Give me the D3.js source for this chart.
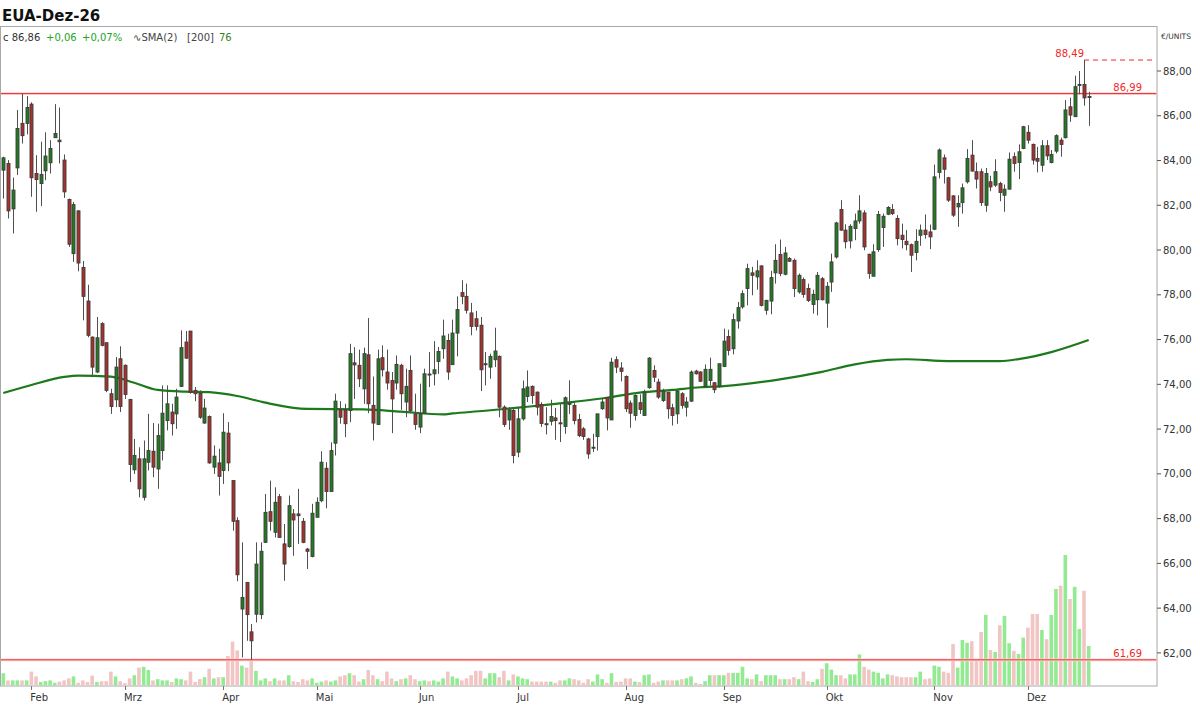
<!DOCTYPE html>
<html><head><meta charset="utf-8">
<script src="https://cdn.jsdelivr.net/npm/d3@7"></script>
<style>body{margin:0;background:#fff;} svg{display:block;font-family:"DejaVu Sans",sans-serif;}</style>
</head><body><svg id="c" width="1200" height="705"></svg>
<script>
const opens = [83.57,83.87,81.84,83.67,85.66,85.66,86.52,83.42,82.97,83.54,83.90,85.02,84.91,84.02,82.26,79.84,81.75,79.22,77.72,76.11,74.55,76.71,75.86,73.58,73.31,75.14,74.85,73.32,70.18,70.67,68.95,70.52,71.01,70.22,71.04,72.38,72.76,72.68,73.91,75.89,76.38,73.73,73.61,72.27,72.56,70.30,70.49,70.15,71.82,69.70,67.91,63.96,65.15,62.94,63.73,63.71,66.94,68.31,67.39,68.98,66.87,66.75,68.21,68.21,67.88,66.64,66.31,68.06,68.80,70.25,69.21,71.37,72.86,72.86,72.83,74.96,74.85,73.80,75.32,73.06,72.21,75.19,74.55,74.17,74.06,74.85,73.21,74.62,72.68,72.09,72.71,74.46,74.47,75.02,75.59,75.96,74.88,76.29,78.10,77.93,77.19,76.93,76.64,74.88,74.77,75.10,75.25,72.98,72.41,72.83,70.97,72.46,73.46,73.91,73.65,73.10,72.24,72.35,72.50,72.28,72.12,73.10,73.06,72.43,72.01,71.56,71.15,71.67,72.91,73.40,72.41,75.10,74.73,74.35,73.16,72.61,73.18,72.61,73.85,74.62,74.10,73.28,73.65,72.95,72.68,73.58,72.98,73.25,74.59,74.55,73.91,74.17,74.07,73.91,74.80,76.14,75.59,76.83,77.46,78.28,78.98,78.80,79.29,77.31,77.72,78.98,79.80,78.92,79.62,79.54,78.13,78.68,78.28,77.57,77.78,78.72,77.63,78.57,79.69,81.81,80.89,80.41,80.96,81.30,81.66,79.81,78.83,80.02,81.01,81.60,81.81,81.41,80.66,80.39,80.24,79.89,80.66,80.89,80.81,80.93,83.47,84.12,83.23,82.42,81.93,82.12,83.05,84.24,83.50,83.50,82.00,83.05,82.90,82.97,82.45,82.72,84.17,83.91,84.54,85.26,84.72,84.09,83.79,84.66,83.91,84.42,84.91,85.02,86.40,85.96,87.37,87.40,86.84];
const highs = [84.17,84.02,83.24,86.26,86.99,86.88,86.60,84.24,84.84,85.26,84.91,86.52,86.37,84.27,82.30,82.15,81.78,79.51,78.45,76.14,77.01,76.78,75.86,73.80,75.22,75.70,74.89,73.35,71.56,71.19,71.49,72.68,72.27,72.24,73.95,73.95,73.13,73.80,76.41,76.38,76.38,73.88,73.73,73.35,72.61,71.27,71.12,72.71,72.31,69.70,68.06,66.94,65.15,63.29,66.94,66.94,69.10,69.70,69.40,69.10,67.76,69.03,68.43,69.33,68.03,66.69,68.66,68.95,71.01,70.52,71.41,73.58,73.25,73.13,75.81,75.66,75.55,75.64,76.96,74.35,75.55,75.74,75.55,74.55,75.29,74.92,74.70,75.29,73.58,74.03,74.70,75.44,75.93,75.67,76.89,76.26,76.89,77.93,78.65,78.50,77.64,77.28,77.01,75.44,75.37,76.53,75.29,73.06,72.98,72.91,72.98,74.17,74.62,73.95,73.68,73.20,72.98,73.31,72.95,73.13,73.46,74.18,73.16,72.68,72.09,71.61,71.79,72.68,73.35,73.43,75.19,75.25,74.99,74.40,73.28,73.55,73.55,73.76,75.22,74.85,74.25,73.80,73.65,73.13,73.76,73.65,73.43,74.62,74.65,74.59,74.89,75.19,74.10,74.92,76.49,76.44,77.16,77.68,78.20,79.39,79.25,79.54,79.32,77.78,79.07,80.26,80.47,80.14,79.69,79.62,78.95,78.77,78.50,78.23,79.02,78.80,78.57,79.84,81.26,82.23,81.15,81.15,81.63,82.45,81.78,79.84,80.26,81.75,81.63,81.96,82.05,81.56,81.18,80.89,80.29,80.93,81.14,81.59,81.14,83.82,84.54,84.27,83.27,82.45,82.45,82.97,84.51,84.91,83.91,83.64,83.67,83.32,84.06,83.05,82.93,84.36,84.36,84.72,85.55,85.58,84.76,84.61,84.91,84.91,84.47,85.17,85.02,86.70,86.81,87.79,88.00,88.49,87.07];
const lows = [82.30,81.41,80.74,83.35,84.76,85.17,82.38,81.71,81.96,83.12,83.42,85.02,83.87,82.33,80.14,79.47,79.05,76.86,76.10,74.32,74.50,75.70,73.65,72.68,72.98,72.76,73.35,69.63,70.00,68.95,68.81,70.15,69.85,69.33,70.60,71.94,71.71,72.01,73.88,75.14,73.58,73.25,72.46,72.24,70.45,70.00,69.03,69.55,70.12,67.46,65.20,61.80,62.54,61.69,63.36,63.51,66.91,67.46,67.16,67.16,65.22,66.70,66.34,66.87,66.90,65.75,66.27,68.06,68.73,68.46,69.21,70.82,72.24,71.64,72.31,73.35,73.88,73.13,72.71,71.49,72.21,74.35,73.76,71.82,73.76,72.86,72.53,72.71,71.97,71.82,72.68,73.88,73.95,74.47,75.14,74.20,74.88,75.25,77.58,77.16,76.19,76.41,73.70,73.95,74.25,74.77,72.53,72.09,71.97,70.47,70.74,72.38,73.21,73.13,72.61,72.10,71.76,72.16,71.52,71.42,71.79,72.68,72.21,71.64,71.52,70.67,70.97,71.04,72.86,71.94,72.41,74.50,74.13,72.76,72.06,72.38,72.68,72.61,73.80,74.10,73.35,73.21,72.46,72.16,72.24,72.91,72.56,73.21,74.44,74.10,73.85,73.95,73.61,73.85,74.77,75.29,75.34,76.49,77.38,77.53,77.98,78.23,77.48,77.11,77.13,78.50,78.83,78.87,79.47,77.90,78.05,77.87,77.68,77.16,77.08,77.75,76.53,78.13,79.62,80.86,80.07,80.07,80.44,81.18,79.99,78.72,78.83,79.92,80.14,81.56,81.56,80.21,80.07,79.99,79.02,79.54,80.19,80.51,80.04,80.89,83.20,82.97,82.15,81.48,81.04,81.63,82.97,83.50,82.75,81.97,81.71,82.63,82.82,82.18,81.71,82.72,83.50,83.17,84.51,84.76,83.82,83.47,83.50,84.02,83.87,84.32,84.17,84.99,85.73,85.96,86.96,86.45,85.55];
const closes = [84.12,81.75,82.68,85.43,85.11,86.37,83.23,83.15,83.38,84.20,84.54,85.21,84.84,82.60,80.26,82.03,79.42,77.93,76.19,74.77,76.08,75.74,73.73,73.01,74.77,73.01,73.55,70.42,70.82,69.33,70.67,71.04,70.30,71.71,72.71,73.13,72.24,73.43,75.64,75.17,73.65,73.58,72.53,72.94,70.49,70.79,69.89,71.86,70.49,67.88,65.49,64.48,63.71,62.54,65.97,66.54,68.28,67.88,68.73,67.16,65.97,68.58,67.94,68.13,66.94,66.54,68.24,68.73,70.52,69.21,71.04,73.25,72.53,72.24,75.37,74.87,74.25,75.37,73.13,72.27,75.14,74.65,74.06,73.35,74.89,73.58,73.91,72.83,72.21,72.68,74.47,74.43,74.65,75.47,76.16,74.55,76.29,77.34,77.93,77.31,76.59,76.59,74.65,74.92,75.25,75.49,72.98,72.21,72.86,70.82,72.46,73.80,73.88,73.50,72.98,72.25,72.21,72.56,72.38,72.25,73.40,73.16,72.38,71.71,71.67,70.89,71.19,72.68,73.21,72.50,74.99,74.77,74.58,72.91,72.71,73.50,72.88,73.65,75.17,74.32,73.43,73.70,72.91,72.61,73.70,73.06,73.21,74.55,74.47,74.14,74.67,74.67,73.76,74.92,75.93,75.52,76.89,77.43,78.05,79.17,78.87,79.07,77.53,77.75,78.77,79.54,78.95,79.87,79.50,78.28,78.87,78.02,77.75,78.02,78.87,77.78,78.38,79.47,81.21,80.89,80.37,81.06,81.30,81.75,80.14,78.95,79.92,81.59,81.51,81.90,81.63,80.51,80.47,80.24,79.77,80.39,80.89,80.69,80.59,83.27,84.47,83.61,82.23,81.56,82.08,82.78,84.09,83.53,83.17,82.12,83.42,82.82,83.50,82.57,82.72,84.06,83.87,84.39,85.51,84.91,84.02,83.97,84.66,84.21,84.27,85.11,84.72,86.26,86.03,87.30,87.40,86.80,86.86];
const volumes = [3.2,1.4,1.4,1.4,1.4,1.4,3.6,2.4,1.0,1.2,
1.4,0.8,1.1,1.4,1.9,2.4,0.8,1.4,1.0,2.6,
1.0,1.2,1.2,3.6,2.4,1.2,0.7,1.9,2.7,4.6,
4.8,4.0,1.4,1.7,1.4,1.4,1.0,1.9,1.7,1.4,
3.6,1.0,1.7,2.2,4.3,1.9,2.2,2.2,7.5,11.1,
8.9,5.1,4.6,6.7,3.8,1.4,1.9,1.2,1.9,1.4,
1.4,2.7,1.2,1.0,1.7,1.4,1.9,0.8,1.1,1.4,
1.1,1.4,2.4,2.7,3.2,2.7,1.1,1.7,4.0,2.7,
1.7,1.2,3.6,1.9,1.2,1.7,1.9,2.7,1.7,1.2,
1.4,1.2,1.4,1.1,1.9,3.6,2.4,1.9,1.4,1.9,
2.7,3.8,3.8,1.9,3.2,3.2,2.2,3.8,1.4,2.9,
2.4,1.9,1.7,1.1,1.1,1.1,1.1,1.1,0.8,1.4,
1.4,1.9,1.7,1.4,0.8,1.7,1.1,2.9,1.7,0.8,
3.2,1.0,1.1,1.9,1.9,1.1,1.0,2.7,2.9,0.8,
1.1,1.4,1.4,1.4,1.4,1.7,1.9,2.4,0.8,0.5,
1.2,2.7,2.7,2.7,2.7,3.3,3.3,3.3,4.8,1.9,
1.7,2.9,1.2,2.7,2.7,2.7,1.7,1.7,1.7,2.2,
1.7,3.6,1.2,1.0,1.7,4.3,5.7,4.1,2.7,2.7,
1.9,2.9,2.9,7.9,4.8,4.1,3.6,3.3,1.9,2.9,
2.7,2.4,2.2,2.2,2.2,2.2,3.6,1.7,1.9,5.1,
4.8,3.6,3.3,10.5,4.6,11.5,10.8,11.2,6.5,13.5,
17.8,9.0,8.5,15.2,17.5,10.7,8.8,8.0,12.1,14.6,
18.0,18.0,14.0,11.7,17.75,24.25,25.1,32.75,21.75,24.8,
14.25,23.8,10.0];
const monthTicks = [6,26,47,67,89,110,133,154,176,199,219];
const monthLabels = ["Feb","Mrz","Apr","Mai","Jun","Jul","Aug","Sep","Okt","Nov","Dez"];
const priceTicks = [62,64,66,68,70,72,74,76,78,80,82,84,86,88];
const smaIdx = [0,6,13,16,23,28,33,39,44,50,56,65,77,85,94,96,103,110,116,122,129,136,143,149,154,165,175,182,189,193,202,213,217,224,232];
const smaVals = [73.61,73.97,74.33,74.39,74.34,74.07,73.75,73.67,73.65,73.48,73.18,72.90,72.88,72.78,72.66,72.70,72.82,72.96,73.08,73.22,73.40,73.63,73.75,73.87,73.92,74.19,74.56,74.89,75.09,75.12,75.04,75.04,75.13,75.44,75.98];
const refLines = [86.99, 61.69];
const refLabels = ["86,99", "61,69"];
const highMark = 88.49, highLabel = "88,49";

const fmt = v => v.toFixed(2).replace(".", ",");
const svg = d3.select("#c");
const L = 0.5, R = 1157, T = 26.5, B = 686;
const n = closes.length;
const x = d3.scaleLinear().domain([0, n - 1]).range([3.3, 1088.7]);
const y = d3.scaleLinear().domain([62, 88]).range([652.9, 71]);
const vy = d3.scaleLinear().domain([0, 33]).range([B, B - 132]);

svg.append("rect").attr("x", L).attr("y", T).attr("width", R - L).attr("height", B - T)
  .attr("fill", "#fff").attr("stroke", "#a8a8a8");
svg.append("defs").append("clipPath").attr("id", "pc").append("rect")
  .attr("x", L + 0.5).attr("y", T + 0.5).attr("width", R - L - 1).attr("height", B - T - 1);
const g = svg.append("g").attr("clip-path", "url(#pc)");

// volume
g.selectAll("rect.vol").data(volumes).join("rect").attr("class", "vol")
  .attr("x", (d, i) => x(i) - 1.8).attr("width", 3.6)
  .attr("y", d => vy(d)).attr("height", d => B - vy(d))
  .attr("fill", (d, i) => closes[i] >= opens[i] ? "#93ea93" : "#f2c5c5");

// reference lines
refLines.forEach(v => {
  g.append("line").attr("x1", L).attr("x2", R).attr("y1", y(v)).attr("y2", y(v))
    .attr("stroke", "#fbd6d6").attr("stroke-width", 2.6);
  g.append("line").attr("x1", L).attr("x2", R).attr("y1", y(v)).attr("y2", y(v))
    .attr("stroke", "#f02828").attr("stroke-width", 1);
});
g.append("line").attr("x1", x(n - 2)).attr("x2", R - 2).attr("y1", y(highMark)).attr("y2", y(highMark))
  .attr("stroke", "#f02828").attr("stroke-width", 1).attr("stroke-dasharray", "5,4");

// SMA
const smaPts = smaIdx.map((d, k) => [d, smaVals[k]]);
g.append("path").datum(smaPts)
  .attr("d", d3.line().x(d => x(d[0])).y(d => y(d[1])).curve(d3.curveMonotoneX))
  .attr("fill", "none").attr("stroke", "#1c7a1c").attr("stroke-width", 2.2);

// candles
const cg = g.append("g");
d3.range(n).forEach(i => {
  const cx = Math.round(x(i)) + 0.5;
  cg.append("line").attr("x1", cx).attr("x2", cx).attr("y1", y(highs[i])).attr("y2", y(lows[i]))
    .attr("stroke", "#505050").attr("stroke-width", 1);
  const top = y(Math.max(opens[i], closes[i])), bot = y(Math.min(opens[i], closes[i]));
  cg.append("rect").attr("x", cx - 1.5).attr("width", 3)
    .attr("y", top).attr("height", Math.max(1, bot - top))
    .attr("fill", closes[i] >= opens[i] ? "#1f7d1f" : "#ad2f2b")
    .attr("stroke", "#3c3c3c").attr("stroke-width", 0.9);
});

// labels on lines
const lbl = (t, xx, yy) => svg.append("text").attr("x", xx).attr("y", yy).attr("text-anchor", "end")
  .attr("font-size", 10).attr("fill", "#f02828").text(t);
lbl(refLabels[0], 1142, y(refLines[0]) - 3);
lbl(refLabels[1], 1142, y(refLines[1]) - 3);
lbl(highLabel, 1084, y(highMark) - 3);

// right axis
const ax = svg.append("g");
priceTicks.forEach(v => {
  ax.append("line").attr("x1", R).attr("x2", R + 4).attr("y1", y(v)).attr("y2", y(v)).attr("stroke", "#555");
  ax.append("text").attr("x", R + 6).attr("y", y(v)).attr("dy", "0.36em").attr("font-size", 10)
    .attr("fill", "#333").text(fmt(v));
});
svg.append("text").attr("x", 1161).attr("y", 39).attr("font-size", 7.5).attr("fill", "#333").text("€/UNITS");

// bottom axis
monthTicks.forEach((i, k) => {
  ax.append("line").attr("x1", Math.round(x(i)) + 0.5).attr("x2", Math.round(x(i)) + 0.5)
    .attr("y1", B).attr("y2", B + 4).attr("stroke", "#777");
  ax.append("text").attr("x", x(i) - 1).attr("y", 701).attr("font-size", 10).attr("fill", "#333").text(monthLabels[k]);
});

// header
svg.append("text").attr("x", 2).attr("y", 21).attr("font-size", 15).attr("font-weight", "bold")
  .attr("fill", "#111").text("EUA-Dez-26");
const last = closes[n - 1], prev = closes[n - 2];
const chg = last - prev, pct = chg / prev * 100;
const info = [
  {t: "c " + fmt(last), x: 3, c: "#333"},
  {t: (chg >= 0 ? "+" : "") + fmt(chg), x: 46, c: "#25a325"},
  {t: (pct >= 0 ? "+" : "") + fmt(pct) + "%", x: 82, c: "#25a325"},
  {t: "∿SMA(2)", x: 133, c: "#444"},
  {t: "[200]", x: 187, c: "#444"},
  {t: String(Math.round(smaVals[smaVals.length - 1])), x: 219, c: "#3a7d1e"}
];
info.forEach(d => svg.append("text").attr("x", d.x).attr("y", 40.5).attr("font-size", 10).attr("fill", d.c).text(d.t));
</script></body></html>
